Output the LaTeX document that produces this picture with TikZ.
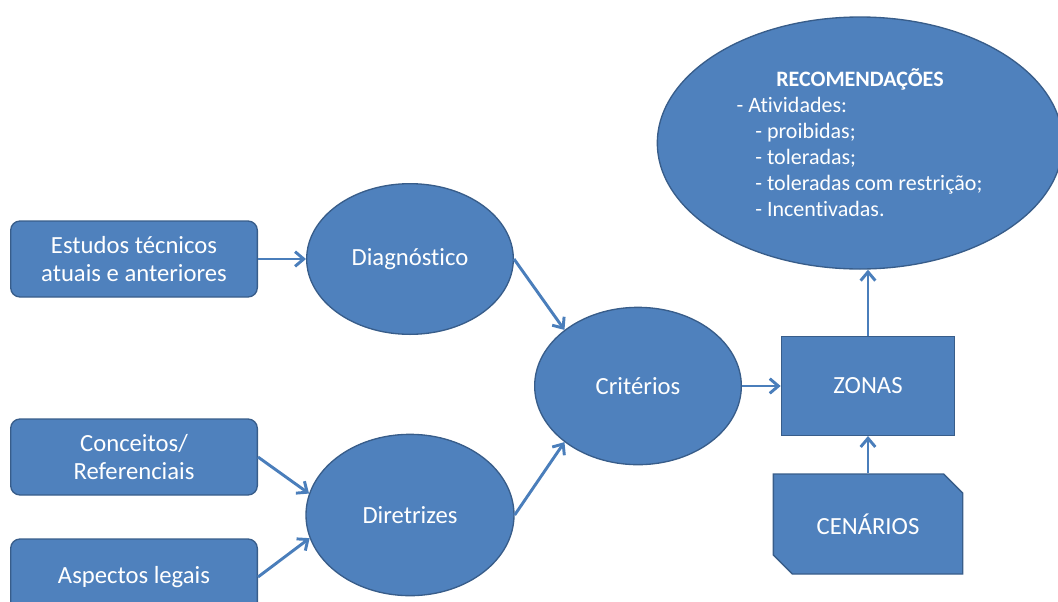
\documentclass[tikz,border=0pt]{standalone}
\usepackage{fontspec}
\setmainfont{Carlito}[Ligatures=NoCommon]
\usetikzlibrary{shapes.geometric,shapes.misc,arrows.meta}
\definecolor{boxblue}{RGB}{79,129,189}
\definecolor{edgeblue}{RGB}{56,93,138}
\definecolor{arrowblue}{RGB}{74,126,187}

\begin{document}
\begin{tikzpicture}[x=0.75pt,y=-0.75pt,
		every node/.style={text=white,font=\fontsize{18.5}{20.5}\selectfont},
		fonte/.style={draw=edgeblue,fill=boxblue,line width=1pt,rounded corners=7pt,minimum width=185pt,minimum height=57pt,align=center},
		etapa/.style={ellipse,draw=edgeblue,fill=boxblue,line width=1pt,inner sep=0pt},
		caixa/.style={draw=edgeblue,fill=boxblue,line width=1pt},
		seta/.style={draw=arrowblue,line width=2.2pt,-{Straight Barb[length=6.5pt,width=11pt]}}]
		
		\useasboundingbox (0,0) rectangle (1058,601);
		
		%
		\node[fonte] (estudos) at (134,259) {Estudos técnicos\\atuais e anteriores};
		\node[fonte] (conceitos) at (134,457) {Conceitos/\\Referenciais};
		\node[fonte] (aspectos) at (134,577) {Aspectos legais};
		
		%
		\node[etapa,minimum width=155pt,minimum height=113pt] (diagnostico) at (410,259) {Diagnóstico};
		\node[etapa,minimum width=156pt,minimum height=121pt] (diretrizes) at (410,515) {Diretrizes};
		\node[etapa,minimum width=155pt,minimum height=118pt] (criterios) at (638,386) {Critérios};
		
		%
		\node[caixa,minimum width=130pt,minimum height=74pt] (zonas) at (868,386) {ZONAS};
		\node[caixa,chamfered rectangle,chamfered rectangle corners={north east,south west},
			chamfered rectangle xsep=13pt,minimum width=142pt,minimum height=75pt] (cenarios) at (868,524) {CENÁRIOS};
		\node[etapa,minimum width=304pt,minimum height=189pt,align=left,font=\fontsize{16.5}{19.5}\selectfont] (recomendacoes) at (860,143)
			{\makebox[185pt]{\bfseries RECOMENDAÇÕES}\\
			- Atividades:\\
			\hspace*{14pt}- proibidas;\\
			\hspace*{14pt}- toleradas;\\
			\hspace*{14pt}- toleradas com restrição;\\
			\hspace*{14pt}- Incentivadas.};
		
		
		\draw[seta] (estudos.east) -- (diagnostico.west);
		\draw[seta] (conceitos.east) -- (diretrizes.168);
		\draw[seta] (aspectos.east) -- (diretrizes.193);
		
		\draw[seta] (diagnostico.east) -- (criterios.north west);
		\draw[seta] (diretrizes.east) -- (criterios.south west);
		
		\draw[seta] (criterios.east) -- (zonas.west);
		\draw[seta] (cenarios.north) -- (zonas.south);
		\draw[seta] (zonas.north) -- (zonas.north |- recomendacoes.south);
		
	\end{tikzpicture}
\end{document}
